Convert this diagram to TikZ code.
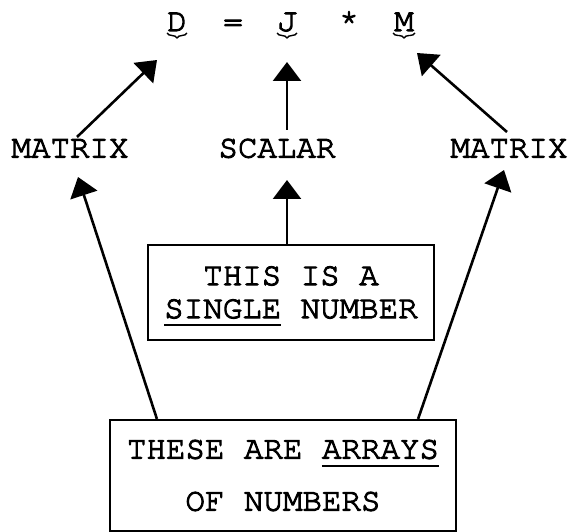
\documentclass[tikz,border=0pt]{standalone}
\usepackage{fontspec}
\newfontfamily\tw{texgyrecursor-regular.otf}[FakeBold=3.2]
\usetikzlibrary{arrows.meta,decorations.pathreplacing,calc}
\newcommand\myul[1]{\setbox0\hbox{#1}\rlap{\smash{\vrule width\wd0 height -6pt depth 8.2pt}}\box0\relax}
\begin{document}
\begin{tikzpicture}[x=1pt,y=-1pt,
  lbl/.style={inner sep=0pt, font=\tw\fontsize{32.5}{33}\selectfont, anchor=base},
  box/.style={draw, line width=2.2pt, align=center, inner sep=0pt},
  arr/.style={line width=2.6pt, -{Triangle[length=19pt,width=28pt]}},
  ubrace/.style={decorate, decoration={brace, amplitude=5pt}, line width=1.4pt}]
\useasboundingbox (0,0) rectangle (568,532);
% equation
\node[lbl] (D) at (177,31) {D};
\node[lbl] (eq) at (233,31) {=};
\node[lbl] (J) at (287,31) {J};
\node[lbl] (st) at (349,31) {*};
\node[lbl] (M) at (404,31) {M};
\draw[ubrace] ($(D.base)+(10,2)$) -- ($(D.base)+(-10,2)$);
\draw[ubrace] ($(J.base)+(10,2)$) -- ($(J.base)+(-10,2)$);
\draw[ubrace] ($(M.base)+(11,2)$) -- ($(M.base)+(-11,2)$);
% labels
\node[lbl] (matl) at (70,157.5) {MATRIX};
\node[lbl] (scal) at (277,157.5) {SCALAR};
\node[lbl] (matr) at (509,157.5) {MATRIX};
% boxes
\node[box, minimum width=286pt, minimum height=95pt, font=\tw\fontsize{32.5}{33}\selectfont] (b1) at (291,292.5) {THIS IS A\\\myul{SINGLE} NUMBER};
\node[box, minimum width=346pt, minimum height=111pt, font=\tw\fontsize{32.5}{52}\selectfont] (b2) at (283,475.5) {THESE ARE \myul{ARRAYS}\\OF NUMBERS};
% arrows
\draw[arr] ($(matl.base)+(7,-20.5)$) -- ($(D.base)+(-20,29)$);
\draw[arr] ($(scal.base)+(10,-27.5)$) -- ($(J.base)+(0,31)$);
\draw[arr] ($(matr.base)+(-2,-25.5)$) -- ($(M.base)+(13,22)$);
\draw[arr] ($(b1.north)+(-4,0)$) -- ($(scal.base)+(10,22.5)$);
\draw[arr] ($(b2.north west)+(48,0)$) -- ($(matl.base)+(8,19.5)$);
\draw[arr] ($(b2.north east)+(-39,0)$) -- ($(matr.base)+(-5,12.5)$);
\end{tikzpicture}
\end{document}
